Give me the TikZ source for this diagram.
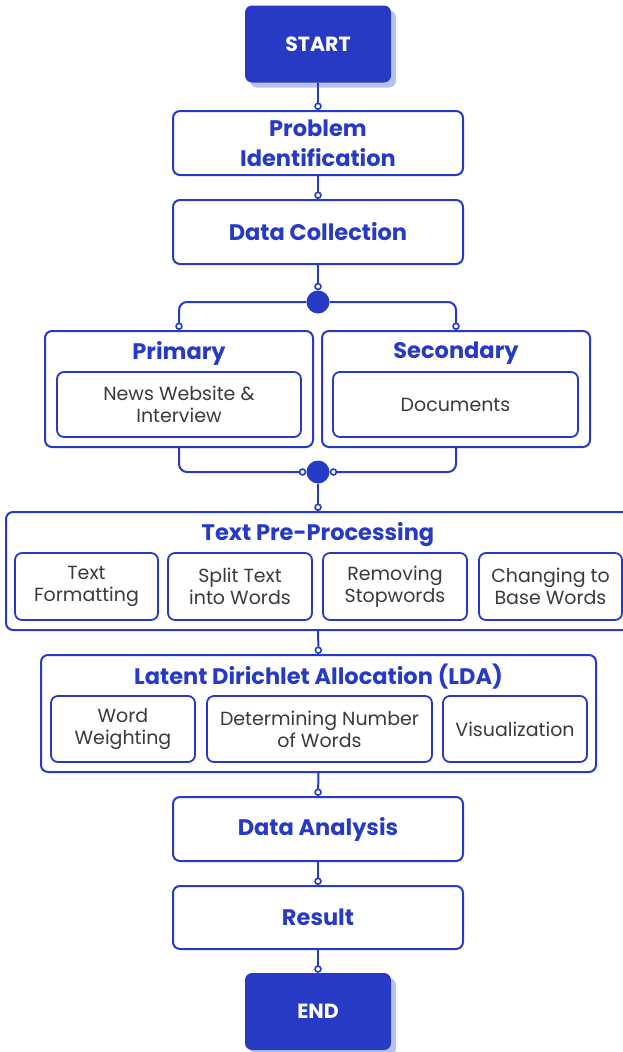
\documentclass[tikz,border=0pt]{standalone}
\usepackage{fontspec}
\setmainfont{Poppins}
\usepackage{xcolor}
\usetikzlibrary{arrows.meta,shadows}
\definecolor{flowBlue}{HTML}{263AC6}
\definecolor{flowShade}{HTML}{B7C3EE}
\definecolor{flowGray}{HTML}{3A3A3A}

\tikzset{
  box/.style={rectangle, draw=flowBlue, line width=2pt, rounded corners=7pt, fill=white, inner sep=0pt, align=center, text=flowBlue, font=\bfseries\fontsize{22.5}{30}\selectfont},
  subbox/.style={box, line width=1.8pt, text=flowGray, font=\fontsize{19}{22}\selectfont},
  heading/.style={inner sep=0pt, text=flowBlue, font=\bfseries\fontsize{22.5}{30}\selectfont},
  terminal/.style={rectangle, fill=flowBlue, rounded corners=7pt, inner sep=0pt, text=white, font=\bfseries\fontsize{20.5}{24}\selectfont, minimum width=146pt, minimum height=77pt, drop shadow={shadow xshift=5pt, shadow yshift=-5pt, fill=flowShade, opacity=1}},
  junction/.style={circle, fill=flowBlue, minimum size=23pt, inner sep=0pt},
  link/.style={draw=flowBlue, line width=2pt, -{Circle[open, fill=white, length=7.5pt, line width=1.6pt]}}
}

\begin{document}
\begin{tikzpicture}[x=1pt, y=-1pt]
\useasboundingbox (0,0) rectangle (623,1052);

\node[terminal] (start) at (318,44) {START};
\node[box, minimum width=290pt, minimum height=64pt] (problem) at (318,143) {Problem\\Identification};
\node[box, minimum width=290pt, minimum height=64pt] (collect) at (318,232) {Data Collection};
\node[junction] (split) at (318,302) {};

% data sources
\node[box, minimum width=268pt, minimum height=116pt] (primary) at (179,389) {};
\node[heading] (primtitle) at (179,353.5) {Primary};
\node[subbox, minimum width=244pt, minimum height=65pt] (news) at (179,404.5) {News Website \&\\Interview};
\node[box, minimum width=268pt, minimum height=116pt] (secondary) at (456,389) {};
\node[heading] (sectitle) at (456,353.5) {Secondary};
\node[subbox, minimum width=245pt, minimum height=65pt] (docs) at (455.5,404.5) {Documents};
\node[junction] (merge) at (318,472) {};

% text pre-processing
\node[box, minimum width=624pt, minimum height=118pt] (prep) at (318,571) {};
\node[heading] (preptitle) at (318,535) {Text Pre-Processing};
\node[subbox, minimum width=143pt, minimum height=67pt] (format) at (86.5,586.5) {Text\\Formatting};
\node[subbox, minimum width=144pt, minimum height=67pt] (split words) at (240,586.5) {Split Text\\into Words};
\node[subbox, minimum width=144pt, minimum height=67pt] (stopwords) at (395,586.5) {Removing\\Stopwords};
\node[subbox, minimum width=143pt, minimum height=67pt] (basewords) at (550.5,586.5) {Changing to\\Base Words};

% lda
\node[box, minimum width=555pt, minimum height=117pt] (lda) at (318.5,713.5) {};
\node[heading] (ldatitle) at (318.5,676.5) {Latent Dirichlet Allocation (LDA)};
\node[subbox, minimum width=144pt, minimum height=66pt] (weight) at (123,729) {Word\\Weighting};
\node[subbox, minimum width=225pt, minimum height=66pt] (number) at (319.5,729) {Determining Number\\of Words};
\node[subbox, minimum width=144pt, minimum height=66pt] (visual) at (515,729) {Visualization};

\node[box, minimum width=290pt, minimum height=64pt] (analysis) at (318,829) {Data Analysis};
\node[box, minimum width=290pt, minimum height=63pt] (result) at (318,917.5) {Result};
\node[terminal] (end) at (318,1011.5) {END};

\draw[link] (start) -- (problem);
\draw[link] (problem) -- (collect);
\draw[link] (collect) -- (split);
\draw[link, rounded corners=8pt] (split.west) -| (primary.north);
\draw[link, rounded corners=8pt] (split.east) -| (secondary.north);
\draw[link, rounded corners=8pt] (primary.south) |- (merge.west);
\draw[link, rounded corners=8pt] (secondary.south) |- (merge.east);
\draw[link] (merge) -- (prep);
\draw[link] (prep) -- (lda);
\draw[link] (lda.south) -- (analysis.north);
\draw[link] (analysis) -- (result);
\draw[link] (result) -- (end);
\end{tikzpicture}
\end{document}
